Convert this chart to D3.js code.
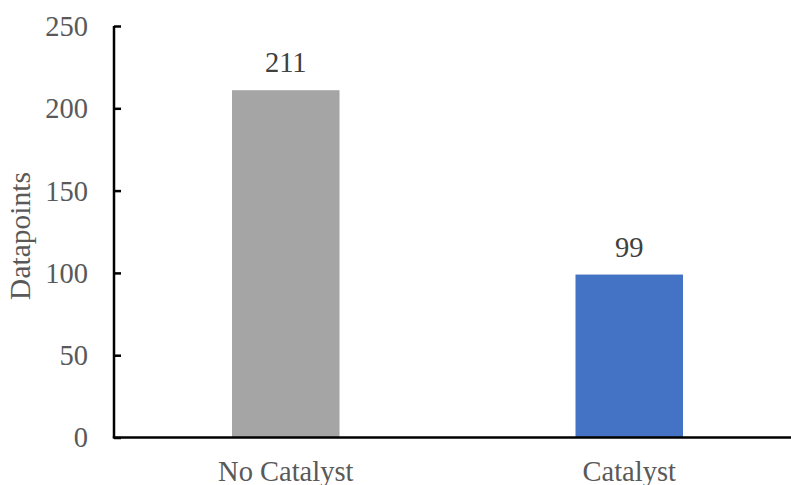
<!DOCTYPE html>
<html>
<head>
<meta charset="utf-8">
<script src="https://cdn.jsdelivr.net/npm/d3@7"></script>
<style>
  html, body { margin: 0; padding: 0; background: #fff; }
  svg { display: block; }
  text { font-family: "Liberation Serif", "Times New Roman", serif; }
</style>
</head>
<body>
<svg id="chart" width="791" height="485"></svg>
<script>
// Data
const categories = ["No Catalyst", "Catalyst"];
const values = [211, 99];
const barColors = ["#A5A5A5", "#4472C4"];
const yTicks = [0, 50, 100, 150, 200, 250];
const yTitle = "Datapoints";

const svg = d3.select("#chart");
const plotLeft = 114, plotRight = 801, plotTop = 26, plotBottom = 437.5;

const x = d3.scaleBand().domain(categories).range([plotLeft, plotRight]).padding(0);
const y = d3.scaleLinear().domain([0, 250]).range([plotBottom, plotTop]);
const barW = x.bandwidth() * 0.313;

// Bars
svg.selectAll("rect.bar")
  .data(categories)
  .join("rect")
  .attr("class", "bar")
  .attr("x", (d) => x(d) + x.bandwidth() / 2 - barW / 2)
  .attr("y", (d, i) => y(values[i]))
  .attr("width", barW)
  .attr("height", (d, i) => y(0) - y(values[i]))
  .attr("fill", (d, i) => barColors[i]);

// Value labels
svg.selectAll("text.val")
  .data(categories)
  .join("text")
  .attr("class", "val")
  .attr("x", (d) => x(d) + x.bandwidth() / 2)
  .attr("y", (d, i) => y(values[i]) - 18)
  .attr("text-anchor", "middle")
  .attr("font-size", 28.5)
  .attr("fill", "#404040")
  .text((d, i) => values[i]);

// Y axis
const yAxis = d3.axisRight(y).tickValues(yTicks).tickSize(7).tickFormat("");
const gy = svg.append("g").attr("transform", `translate(${plotLeft},0)`).call(yAxis);
gy.select(".domain").attr("stroke", "#000").attr("stroke-width", 2.5)
  .attr("d", `M0,${plotTop}V${plotBottom}`);
gy.selectAll(".tick line").attr("stroke", "#000").attr("stroke-width", 2.5);

// Y tick labels
svg.selectAll("text.ytick")
  .data(yTicks)
  .join("text")
  .attr("class", "ytick")
  .attr("x", 88)
  .attr("y", (d) => y(d))
  .attr("dy", "0.35em")
  .attr("text-anchor", "end")
  .attr("font-size", 28.5)
  .attr("fill", "#595959")
  .text((d) => d);

// X axis
const gx = svg.append("g").attr("transform", `translate(0,${plotBottom})`)
  .call(d3.axisBottom(x).tickSize(0).tickFormat(""));
gx.select(".domain").attr("stroke", "#000").attr("stroke-width", 2.5)
  .attr("d", `M${plotLeft - 1.25},0H${plotRight}`);

// Category labels
svg.selectAll("text.cat")
  .data(categories)
  .join("text")
  .attr("class", "cat")
  .attr("x", (d) => x(d) + x.bandwidth() / 2)
  .attr("y", 481)
  .attr("text-anchor", "middle")
  .attr("font-size", 28.5)
  .attr("fill", "#595959")
  .text((d) => d);

// Y axis title
svg.append("text")
  .attr("transform", `translate(30,236) rotate(-90)`)
  .attr("text-anchor", "middle")
  .attr("font-size", 29.5)
  .attr("fill", "#595959")
  .text(yTitle);
</script>
</body>
</html>
